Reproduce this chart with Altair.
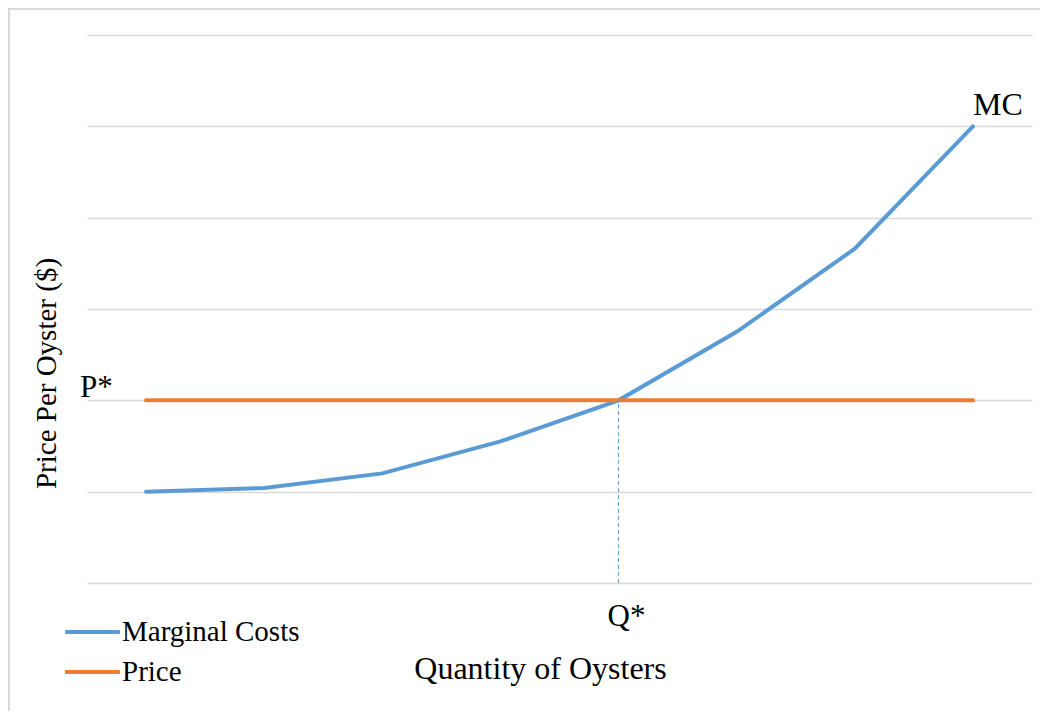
import altair as alt
import pandas as pd

# ---- data ----
quantity = [1, 2, 3, 4, 5, 6, 7, 8]
marginal_costs = [1.0, 1.04, 1.2, 1.55, 2.0, 2.75, 3.66, 5.0]
price = [2.0, 2.0, 2.0, 2.0, 2.0, 2.0, 2.0, 2.0]
series_names = ["Marginal Costs", "Price"]
series_colors = ["#5B9BD5", "#ED7D31"]
q_star = 5
p_star = 2.0

FONT = "Liberation Serif"
FS = 31
FSX = 32
FSL = 29
FSV = 29
W, H = 945, 548
PL, PT, PR, PB = 79, 27, 8, 128

rows = []
for q, mc in zip(quantity, marginal_costs):
    rows.append({"q": q, "v": mc, "series": series_names[0]})
for q, p in zip(quantity, price):
    rows.append({"q": q, "v": p, "series": series_names[1]})
lines_df = pd.DataFrame(rows)

xs = alt.Scale(domain=[0.5, 8.5], nice=False, zero=False)
ys = alt.Scale(domain=[0, 6], nice=False)

lines = alt.Chart(lines_df).mark_line(strokeWidth=4, strokeCap="round").encode(
    x=alt.X("q:Q", scale=xs,
            axis=alt.Axis(title="Quantity of Oysters", grid=False, labels=False, ticks=False,
                          domain=False, titleFont=FONT, titleFontSize=FSX, titleFontWeight="normal",
                          titleColor="black", titleX=453, titleY=95, titleAlign="center",
                          titleBaseline="alphabetic")),
    y=alt.Y("v:Q", scale=ys,
            axis=alt.Axis(title="Price Per Oyster ($)", values=[0, 1, 2, 3, 4, 5, 6], grid=True,
                          gridColor="#D9D9D9", gridWidth=1.5, labels=False, ticks=False,
                          domain=False, titleFont=FONT, titleFontSize=FSV, titleFontWeight="normal",
                          titleColor="black", titleAngle=270, titleX=-32, titleY=338,
                          titleAlign="center", titleBaseline="alphabetic")),
    color=alt.Color("series:N", scale=alt.Scale(domain=series_names, range=series_colors),
                    legend=alt.Legend(orient="none", legendX=-24, legendY=577, title=None,
                                      symbolType="stroke", symbolSize=3000, symbolStrokeWidth=4,
                                      labelFont=FONT, labelFontSize=FSL, labelColor="black",
                                      clipHeight=40, rowPadding=0, labelOffset=0, padding=0,
                                      labelLimit=400)),
    order="q:Q",
)

drop_df = pd.DataFrame({"q": [q_star], "y0": [0.0], "y1": [p_star]})
drop = alt.Chart(drop_df).mark_rule(color="#5B9BD5", strokeWidth=1, strokeDash=[4, 3]).encode(
    x=alt.X("q:Q", scale=xs), y=alt.Y("y0:Q", scale=ys), y2="y1:Q"
)

p_df = pd.DataFrame({"label": ["P*"], "v": [p_star]})
p_text = alt.Chart(p_df).mark_text(font=FONT, fontSize=FS, align="left", baseline="alphabetic",
                                   dy=-3, color="black").encode(
    x=alt.value(-7), y=alt.Y("v:Q", scale=ys), text="label:N")

q_df = pd.DataFrame({"label": ["Q*"], "q": [q_star], "v": [0.0]})
q_text = alt.Chart(q_df).mark_text(font=FONT, fontSize=FS, align="left", baseline="alphabetic",
                                   dx=-11, dy=43, color="black").encode(
    x=alt.X("q:Q", scale=xs), y=alt.Y("v:Q", scale=ys), text="label:N")

mc_df = pd.DataFrame({"label": ["MC"], "q": [quantity[-1]], "v": [marginal_costs[-1]]})
mc_text = alt.Chart(mc_df).mark_text(font=FONT, fontSize=FSX, align="left", baseline="alphabetic",
                                     dx=0, dy=-11, color="black").encode(
    x=alt.X("q:Q", scale=xs), y=alt.Y("v:Q", scale=ys), text="label:N")

frame_df = pd.DataFrame({"k": [0]})
frame_top = alt.Chart(frame_df).mark_rule(color="#D9D9D9", strokeWidth=2).encode(
    x=alt.value(-PL), x2=alt.value(W + PR), y=alt.value(-PT + 1))
frame_left = alt.Chart(frame_df).mark_rule(color="#D9D9D9", strokeWidth=2).encode(
    x=alt.value(-PL + 1), y=alt.value(-PT), y2=alt.value(H + PB))

chart = alt.layer(lines, drop, p_text, q_text, mc_text, frame_top, frame_left).properties(
    width=W, height=H,
    autosize=alt.AutoSizeParams(type="none"),
    padding={"left": PL, "top": PT, "right": PR, "bottom": PB},
).configure(background="white", font=FONT).configure_view(
    strokeWidth=0, stroke="transparent"
).configure_legend(
    labelFont=FONT, labelFontSize=FSL, labelColor="black"
)

chart.save("out.html", embed_options={"renderer": "svg", "actions": False})
